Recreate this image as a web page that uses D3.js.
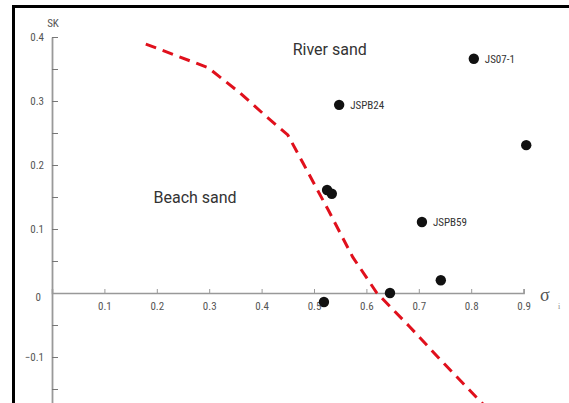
<!DOCTYPE html>
<html><head><meta charset="utf-8">
<script src="https://cdn.jsdelivr.net/npm/d3@7"></script>
<style>
html,body{margin:0;padding:0;background:#fff;overflow:hidden}
svg{display:block}
.cond{font-family:"Liberation Sans Narrow","Arial Narrow","Roboto Condensed",sans-serif}
</style></head>
<body>
<script>
// ---- data ----
const xTickValues = [0.1,0.2,0.3,0.4,0.5,0.6,0.7,0.8,0.9];
const yTickValues = [0.4,0.3,0.2,0.1,0,-0.1];
const yMinorTicks = [0.35,0.25,0.15,0.05,-0.05,-0.15];
const pointX = [0.805,0.548,0.905,0.525,0.534,0.706,0.742,0.645,0.519];
const pointY = [0.366,0.294,0.231,0.161,0.155,0.111,0.020,0.000,-0.014];
const pointLabels = ["JS07-1","JSPB24","","","","JSPB59","","",""];
const lineX = [0.179,0.298,0.359,0.410,0.450,0.479,0.527,0.574,0.620,0.683,0.742,0.830];
const lineY = [0.389,0.352,0.3125,0.275,0.247,0.203,0.130,0.056,0.000,-0.053,-0.105,-0.180];
const regionLabels = ["River sand","Beach sand"];
const regionX = [0.530,0.273];
const regionY = [0.372,0.141];

const W=569,H=403;
const svg=d3.select("body").append("svg").attr("width",W).attr("height",H);
const x=d3.scaleLinear().domain([0,1]).range([52,576]);
const y=d3.scaleLinear().domain([-0.2,0.4]).range([421,37]);

// frame
svg.append("path").attr("d",`M13.5,${H+5}V6.5H${W+5}`).attr("fill","none").attr("stroke","#000").attr("stroke-width",3);

// x axis
const xa=d3.scaleLinear().domain([0,0.9]).range([x(0),x(0.9)]);
const gx=svg.append("g").attr("transform",`translate(0,${y(0)})`)
 .call(d3.axisBottom(xa).tickValues(xTickValues).tickSizeInner(-4).tickSizeOuter(-4).tickPadding(9).tickFormat(d3.format(".1f")));
gx.select(".domain").attr("stroke","#999").attr("stroke-width",1.6);
gx.selectAll(".tick line").attr("stroke","#999");
gx.selectAll("text").attr("class","cond").attr("font-size",11).attr("fill","#555");

// y axis
const gy=svg.append("g").attr("transform",`translate(${x(0)},0)`)
 .call(d3.axisLeft(y).tickValues(yTickValues).tickSizeInner(-6).tickSizeOuter(0).tickPadding(8).tickFormat(d=>d===0?"0":d3.format(".1f")(d)));
gy.select(".domain").attr("stroke","#999").attr("stroke-width",1.8);
gy.selectAll(".tick line").attr("stroke","#777");
gy.selectAll("text").attr("class","cond").attr("font-size",11).attr("fill","#555");
gy.selectAll(".tick").filter(d=>d===0).select("line").remove();
gy.selectAll(".tick").filter(d=>d===0).select("text").attr("dy","0.7em").attr("x",-11);
const gym=svg.append("g").attr("transform",`translate(${x(0)},0)`)
 .call(d3.axisLeft(y).tickValues(yMinorTicks).tickSizeInner(-6).tickSizeOuter(0).tickFormat(""));
gym.select(".domain").remove();
gym.selectAll(".tick line").attr("stroke","#777");

// axis titles
svg.append("text").attr("class","cond").attr("x",53).attr("y",27).attr("text-anchor","middle").attr("font-size",11).attr("fill","#555").text("SK");
svg.append("text").attr("x",540).attr("y",301).attr("font-family","Liberation Serif, serif").attr("font-size",18).attr("fill","#555").text("σ");
svg.append("text").attr("x",558).attr("y",309).attr("font-family","Liberation Serif, serif").attr("font-size",8).attr("fill","#888").text("i");

// dashed line
svg.append("path").datum(lineX.map((v,i)=>[v,lineY[i]]))
 .attr("d",d3.line().x(d=>x(d[0])).y(d=>y(d[1])))
 .attr("fill","none").attr("stroke","#e0101c").attr("stroke-width",3).attr("stroke-dasharray","11,7");

// points
svg.selectAll("circle.pt").data(pointX.map((v,i)=>({x:v,y:pointY[i],l:pointLabels[i]}))).enter()
 .append("circle").attr("class","pt").attr("cx",d=>x(d.x)).attr("cy",d=>y(d.y)).attr("r",5.2).attr("fill","#111");
svg.selectAll("text.pl").data(pointX.map((v,i)=>({x:v,y:pointY[i],l:pointLabels[i]})).filter(d=>d.l)).enter()
 .append("text").attr("class","pl cond").attr("x",d=>x(d.x)+11).attr("y",d=>y(d.y)+4).attr("font-size",11).attr("fill","#333").text(d=>d.l);

// region labels
svg.selectAll("text.rl").data(regionLabels).enter().append("text").attr("class","rl")
 .attr("x",(d,i)=>x(regionX[i])).attr("y",(d,i)=>y(regionY[i])).attr("text-anchor","middle")
 .attr("font-family","Roboto, sans-serif").attr("font-size",16).attr("fill","#333").text(d=>d);
</script>
</body></html>
